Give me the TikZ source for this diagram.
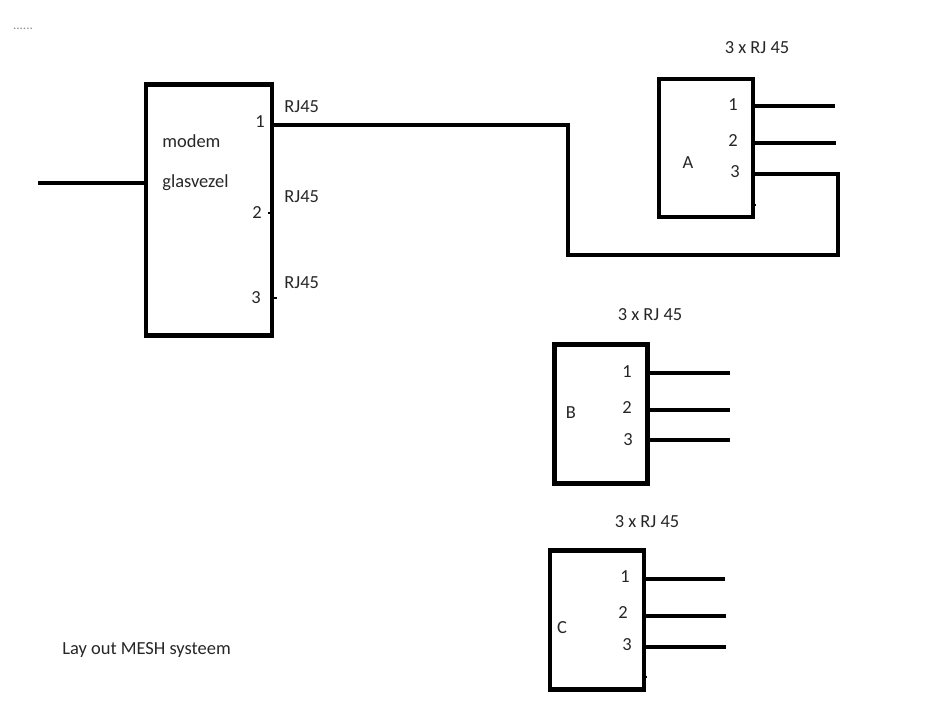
\documentclass[tikz,border=0pt]{standalone}
\usepackage{fontspec}
\setmainfont{Carlito}
\usepackage{tikz}
\usetikzlibrary{calc}

\tikzset{
  box/.style={draw, line width=2.6pt, rectangle, inner sep=0pt, outer sep=0pt},
  wire/.style={line width=2.6pt},
  txt/.style={font=\fontsize{10.5}{12}\selectfont, text=black!85, inner sep=0pt},
  nub/.style={line width=1.6pt}
}

\begin{document}
\begin{tikzpicture}[x=0.02cm, y=-0.02cm]
                \useasboundingbox (0,0) rectangle (926,720);
                \node[text=black!45, font=\fontsize{7.5}{8}\selectfont, inner sep=0pt] (dots) at (23,29) {......};
                
                % Modem
                \node[box, minimum width=2.52cm, minimum height=5.02cm] (modem) at (209,210) {};
                \node[txt, anchor=west] (mname) at (162,141) {modem};
                \node[txt, anchor=west] (mfiber) at (162,183) {glasvezel};
                \coordinate (fiber) at (38,183); % fibre in
                \draw[wire] (fiber) -- (fiber -| modem.west);
                \coordinate (m1) at (272,125);
                \coordinate (m2) at (272,213);
                \coordinate (m3) at (272,298);
                \node[txt] (ml1) at (260,122) {1};
                \node[txt] (ml2) at (257,213) {2};
                \node[txt] (ml3) at (256,298) {3};
                \node[txt, anchor=west] (rj1) at (284,107) {RJ45};
                \node[txt, anchor=west] (rj2) at (284,197) {RJ45};
                \node[txt, anchor=west] (rj3) at (284,283) {RJ45};
                \draw[nub] (m2) -- ++(-4,0);
                \draw[nub] (m3) -- ++(5,0);
                
                % Box A
                \node[box, minimum width=1.88cm, minimum height=2.76cm] (boxA) at (706,148) {};
                \node[txt] (nameA) at (688,163) {A};
                \node[txt] (headA) at (757,48) {3 x RJ 45};
                \coordinate (a1) at (753,106);
                \coordinate (a2) at (753,143);
                \coordinate (a3) at (753,174);
                \node[txt] (la1) at (733,105) {1};
                \node[txt] (la2) at (733,141) {2};
                \node[txt] (la3) at (735,172) {3};
                \draw[wire] (a1) -- ++(82,0);
                \draw[wire] (a2) -- ++(83,0);
                \draw[nub] (753,205) -- ++(3,0);
                
                % Modem port 1 to A port 3
                \coordinate (k1) at (568,255);
                \coordinate (k2) at (838,255);
                \draw[wire] (m1) -| (k1) -- (k2) |- (a3);
                
                % Box B
                \node[box, minimum width=1.86cm, minimum height=2.78cm] (boxB) at (601,414) {};
                \node[txt] (nameB) at (571,413) {B};
                \node[txt] (headB) at (650,315) {3 x RJ 45};
                \coordinate (b1) at (647,373);
                \coordinate (b2) at (647,410);
                \coordinate (b3) at (647,440);
                \node[txt] (lb1) at (627,372) {1};
                \node[txt] (lb2) at (627,408) {2};
                \node[txt] (lb3) at (628,440) {3};
                \draw[wire] (b1) -- ++(83,0);
                \draw[wire] (b2) -- ++(83,0);
                \draw[wire] (b3) -- ++(83,0);
                \draw[nub] (647,472) -- ++(3,0);
                
                % Box C
                \node[box, minimum width=1.88cm, minimum height=2.78cm] (boxC) at (597,620) {};
                \node[txt] (nameC) at (562,628) {C};
                \node[txt] (headC) at (647,522) {3 x RJ 45};
                \coordinate (c1) at (644,579);
                \coordinate (c2) at (644,616);
                \coordinate (c3) at (644,647);
                \node[txt] (lc1) at (625,577) {1};
                \node[txt] (lc2) at (623,613) {2};
                \node[txt] (lc3) at (627,645) {3};
                \draw[wire] (c1) -- ++(81,0);
                \draw[wire] (c2) -- ++(82,0);
                \draw[wire] (c3) -- ++(82,0);
                \draw[nub] (644,677) -- ++(3,0);
                
                \node[txt, anchor=west] (title) at (62,650) {Lay out MESH systeem};
            \end{tikzpicture}
\end{document}
